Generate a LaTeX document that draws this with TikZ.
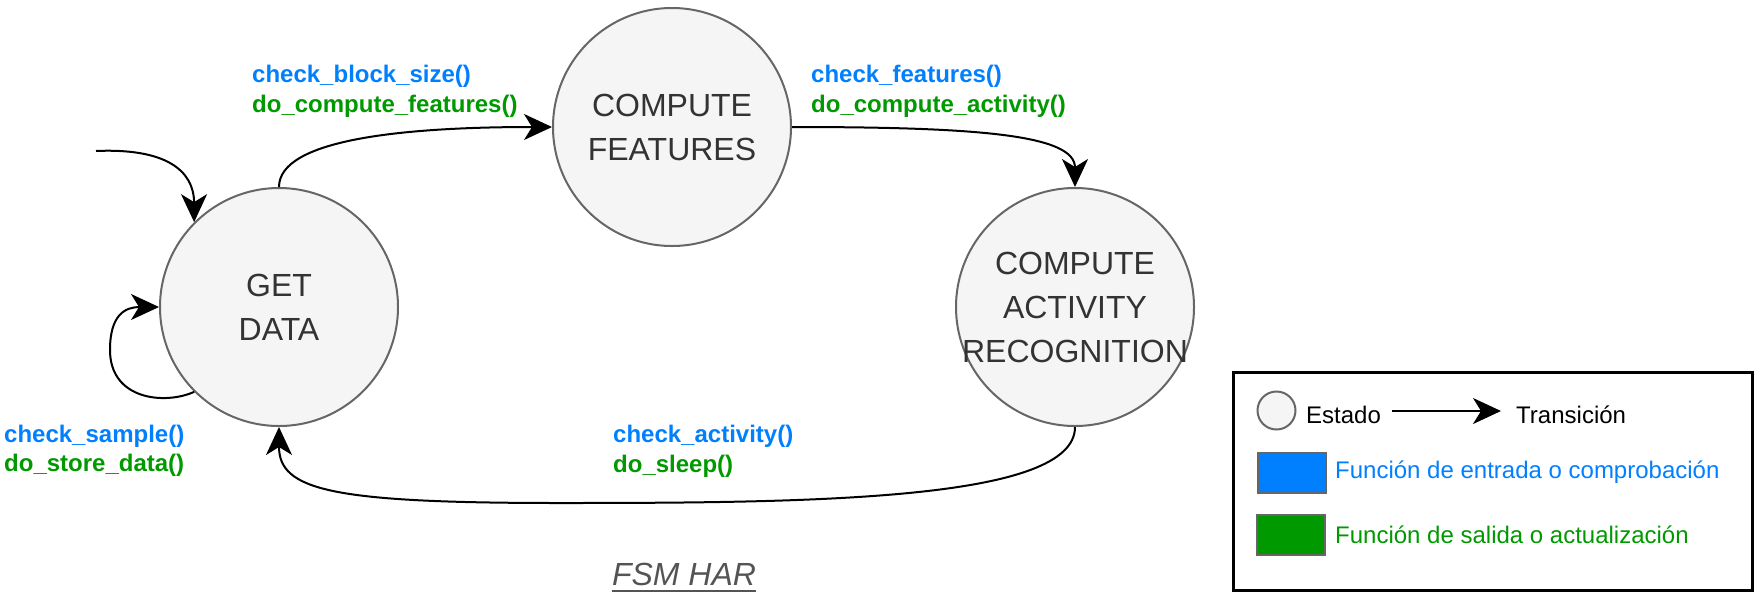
\documentclass[tikz,border=0pt]{standalone}
\usepackage{fontspec}
\setmainfont{Liberation Sans}
\usepackage{xcolor}
\usetikzlibrary{arrows.meta, positioning, calc}

\definecolor{chkblue}{HTML}{007FFF}
\definecolor{updgreen}{HTML}{009900}
\definecolor{statefill}{HTML}{F5F5F5}
\definecolor{statedraw}{HTML}{666666}
\definecolor{statetext}{HTML}{333333}

\begin{document}
\begin{tikzpicture}[
    x=1pt, y=-1pt,
    state/.style={circle, draw=statedraw, fill=statefill, line width=2pt,
                  minimum size=238pt, inner sep=0pt},
    statename/.style={inner sep=0pt, align=center, text=statetext,
                      font=\fontsize{32}{44}\selectfont},
    trans/.style={-{Stealth[length=28pt, width=26pt, inset=8pt]}, line width=2pt, draw=black},
    chk/.style={anchor=base west, inner sep=0pt, text=chkblue, font=\fontsize{24}{30}\selectfont\bfseries},
    upd/.style={anchor=base west, inner sep=0pt, text=updgreen, font=\fontsize{24}{30}\selectfont\bfseries},
    legtext/.style={anchor=base west, inner sep=0pt, font=\fontsize{24}{30}\selectfont},
    legbox/.style={rectangle, draw=statedraw, line width=2pt, minimum width=68pt,
                   minimum height=40pt, inner sep=0pt},
]
\useasboundingbox (0,0) rectangle (1759,598);

%% States
\node[state] (gd)  at (279,307)  {};
\node[state] (cf)  at (672,127)  {};
\node[state] (car) at (1075,307) {};
\node[statename] (gdname)  at (gd)  {GET\\DATA};
\node[statename] (cfname)  at (cf)  {COMPUTE\\FEATURES};
\node[statename] (carname) at (car) {COMPUTE\\ACTIVITY\\RECOGNITION};

%% Transitions
\coordinate (init) at (96,151);
\draw[trans] (init) .. controls (165,148) and (194,170) .. (gd.135);
\draw[trans] (gd.225) .. controls (165,405) and (110,400) .. (110,350)
             .. controls (110,315) and (125,307) .. (gd.west);
\draw[trans] (gd.north) .. controls (279,140) and (400,127) .. (cf.west);
\draw[trans] (cf.east) .. controls (980,127) and (1075,135) .. (car.north);
\draw[trans] (car.south) .. controls (1075,500) and (820,503) .. (560,503)
             .. controls (330,503) and (279,490) .. (gd.south);

%% Transition labels
\node[chk] (lblk1)  at (252,82)  {check\_block\_size()};
\node[upd] (lblk2)  at (252,112) {do\_compute\_features()};
\node[chk] (lfeat1) at (811,82)  {check\_features()};
\node[upd] (lfeat2) at (811,112) {do\_compute\_activity()};
\node[chk] (lsmp1)  at (4,442)   {check\_sample()};
\node[upd] (lsmp2)  at (4,471)   {do\_store\_data()};
\node[chk] (lact1)  at (613,442) {check\_activity()};
\node[upd] (lact2)  at (613,472) {do\_sleep()};

%% Title
\node[inner sep=0pt, anchor=base, text=black!67, font=\fontsize{32}{36}\selectfont\itshape]
    (title) at (684,585) {FSM HAR};
\draw[black!67, line width=2pt] ($(title.base west)+(0,6)$) -- ($(title.base east)+(0,6)$);

%% Legend
\node[draw=black, line width=3pt, minimum width=519pt, minimum height=218pt, inner sep=0pt]
    (legend) at (1492.5,481) {};
\node[circle, draw=statedraw, fill=statefill, line width=2pt, minimum size=38pt, inner sep=0pt]
    (lstate) at (1276.5,410.5) {};
\node[legtext] (lestado) at (1306,423) {Estado};
\coordinate (larrA) at (1392,411);
\coordinate (larrB) at (1501,411);
\draw[trans] (larrA) -- (larrB);
\node[legtext] (ltrans) at (1516,423) {Transición};
\node[legbox, fill=chkblue] (lblue) at (1292,472.5) {};
\node[legtext, text=chkblue, right=8pt of lblue.east, anchor=west] (lbluetxt) {Función de entrada o comprobación};
\node[legbox, fill=updgreen] (lgreen) at (1291,535) {};
\node[legtext, text=updgreen, right=9pt of lgreen.east, anchor=west] (lgreentxt) {Función de salida o actualización};

\end{tikzpicture}
\end{document}
